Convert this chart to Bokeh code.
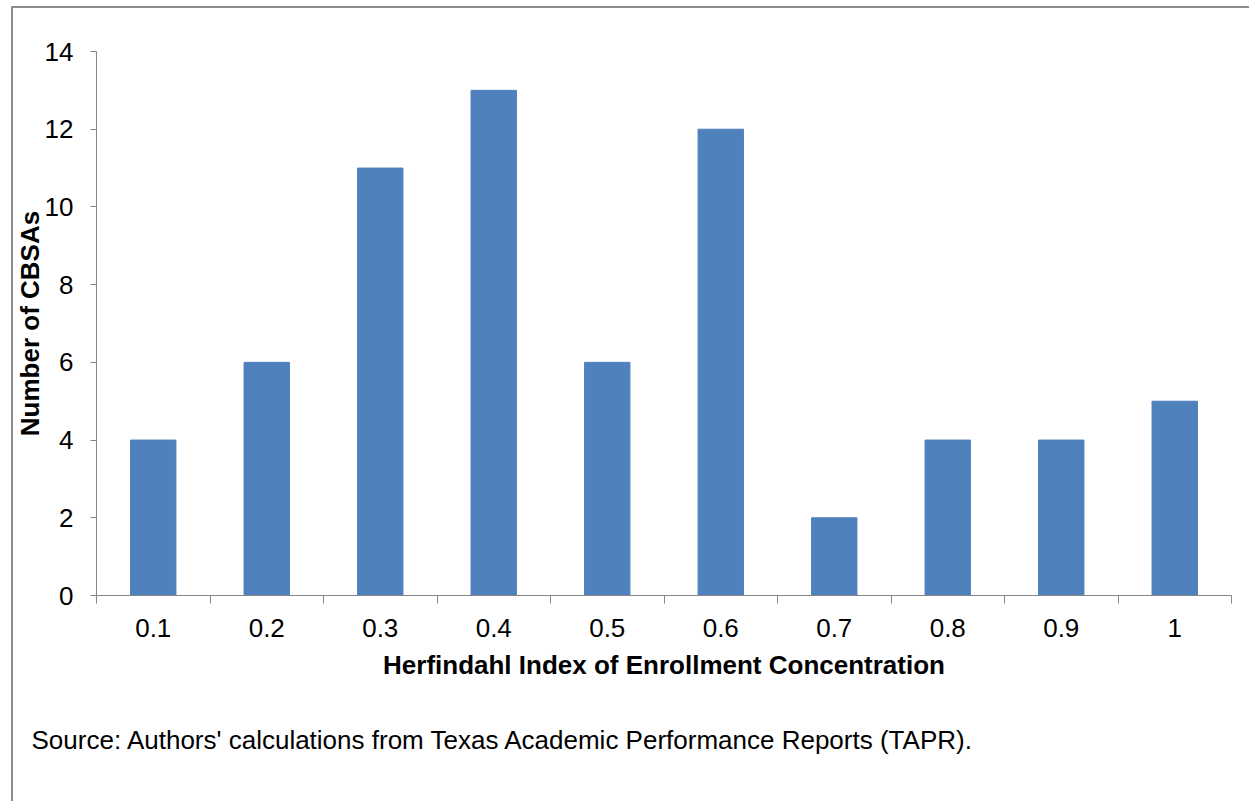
from bokeh.plotting import figure
from bokeh.models import Range1d, FixedTicker, SingleIntervalTicker, Title
from bokeh.embed import file_html
from bokeh.resources import INLINE

categories = ["0.1", "0.2", "0.3", "0.4", "0.5", "0.6", "0.7", "0.8", "0.9", "1"]
counts = [4, 6, 11, 13, 6, 12, 2, 4, 4, 5]
y_ticks_interval = 2
y_max = 14
x_title = "Herfindahl Index of Enrollment Concentration"
y_title = "Number of CBSAs"
source_text = "Source: Authors' calculations from Texas Academic Performance Reports (TAPR)."

positions = list(range(1, len(categories) + 1))
boundaries = [p - 0.5 for p in positions] + [positions[-1] + 0.5]

FONT = "Liberation Sans"
FS = "26px"
AXIS_GRAY = "#868686"
BORDER = "#8c8c8c"

p = figure(width=1249, height=801, output_backend="svg", toolbar_location=None,
           x_range=Range1d(0.5, len(categories) + 0.5), y_range=Range1d(0, y_max),
           min_border_left=96, min_border_top=51, min_border_bottom=206, min_border_right=18)
p.outline_line_color = None
p.xgrid.visible = False
p.ygrid.visible = False
p.background_fill_color = "white"
p.border_fill_color = None
p.border_fill_alpha = 0
# outer chart-area border (top and left edges, as in the cropped original)
p.styles = {
    "background-color": "white",
    "background-image": f"linear-gradient({BORDER},{BORDER}), linear-gradient({BORDER},{BORDER})",
    "background-size": "2px 100%, 100% 2px",
    "background-position": "11px 6px, 11px 6px",
    "background-repeat": "no-repeat",
}

p.vbar(x=positions, top=counts, width=0.4, fill_color="#4F81BD", line_color="#4F81BD")

# x axis
xa = p.xaxis[0]
xa.ticker = FixedTicker(ticks=positions, minor_ticks=boundaries)
xa.major_label_overrides = {pos: lab for pos, lab in zip(positions, categories)}
xa.major_tick_out = 0
xa.major_tick_in = 0
xa.minor_tick_out = 8
xa.minor_tick_in = 0
xa.minor_tick_line_color = AXIS_GRAY
xa.axis_line_color = AXIS_GRAY
xa.major_label_text_font = FONT
xa.major_label_text_font_size = FS
xa.major_label_text_color = "black"
xa.major_label_standoff = 15
xa.axis_label = x_title
xa.axis_label_text_font = FONT
xa.axis_label_text_font_size = FS
xa.axis_label_text_font_style = "bold"
xa.axis_label_text_color = "black"
xa.axis_label_standoff = 10

# y axis
ya = p.yaxis[0]
ya.ticker = SingleIntervalTicker(interval=y_ticks_interval)
ya.major_tick_out = 6
ya.major_tick_in = 0
ya.minor_tick_out = 0
ya.minor_tick_in = 0
ya.major_tick_line_color = AXIS_GRAY
ya.axis_line_color = AXIS_GRAY
ya.major_label_text_font = FONT
ya.major_label_text_font_size = FS
ya.major_label_text_color = "black"
ya.major_label_standoff = 17
ya.axis_label = y_title
ya.axis_label_text_font = FONT
ya.axis_label_text_font_size = FS
ya.axis_label_text_font_style = "bold"
ya.axis_label_text_color = "black"
ya.axis_label_standoff = -3

# leading blank line pushes the source note down, as in the original
src = Title(text="\n" + source_text, align="left", offset=-65, standoff=0, vertical_align="top",
            text_font=FONT, text_font_size=FS, text_font_style="normal",
            text_line_height=1.4, text_color="black")
p.add_layout(src, "below")

open("out.html", "w").write(file_html(p, INLINE))
